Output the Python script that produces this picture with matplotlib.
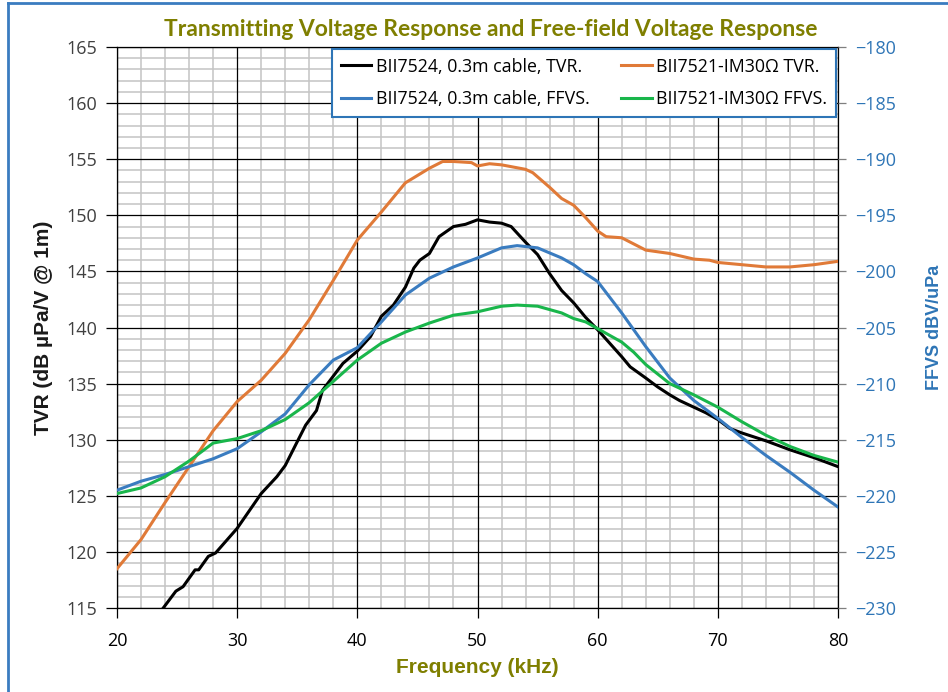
import numpy as np
import matplotlib
matplotlib.use("Agg")
import matplotlib.pyplot as plt
from matplotlib.lines import Line2D
from matplotlib.ticker import MultipleLocator, FixedLocator

# frequencies (kHz) and values
f_black = [23.85, 24.9, 25.5, 26.5, 26.8, 27.6, 28.2, 30, 32, 33.3, 34, 34.8, 35.7, 36.6, 37.1,
           38.8, 40, 41.1, 42, 43, 44, 44.7, 45.2, 46, 46.8, 48, 49, 50, 51, 52, 52.8, 54, 55,
           56, 57, 58, 59, 60, 61, 62, 62.7, 64, 65, 66, 66.8, 68, 69, 70, 71, 72, 74, 76, 78, 80]
tvr_black = [115.0, 116.5, 116.9, 118.4, 118.4, 119.6, 119.9, 122.1, 125.2, 126.7, 127.7, 129.4,
             131.3, 132.6, 134.4, 136.8, 137.9, 139.2, 141.0, 142.0, 143.6, 145.3, 146.0, 146.6,
             148.1, 149.0, 149.2, 149.6, 149.4, 149.3, 149.0, 147.6, 146.5, 144.8, 143.3, 142.2,
             140.9, 139.8, 138.6, 137.4, 136.5, 135.5, 134.7, 134.0, 133.5, 132.9, 132.4, 131.8,
             131.0, 130.6, 129.9, 129.1, 128.4, 127.6]

f_orange = [20, 22, 24, 26, 28, 30, 32, 34, 36, 38, 40, 42, 44, 46, 47.1, 48, 49.5, 50, 51, 52,
            54, 54.6, 56, 57, 58, 59, 60, 60.7, 62, 64, 66, 68, 69.3, 70, 72, 74, 76, 78, 80]
tvr_orange = [118.5, 121.1, 124.4, 127.6, 130.8, 133.4, 135.3, 137.7, 140.7, 144.2, 147.8, 150.3,
              152.9, 154.2, 154.8, 154.8, 154.7, 154.4, 154.6, 154.5, 154.1, 153.8, 152.5, 151.5,
              150.9, 149.8, 148.6, 148.1, 148.0, 146.9, 146.6, 146.1, 146.0, 145.8, 145.6, 145.4,
              145.4, 145.6, 145.9]

f_blue = [20, 22, 24, 26, 28, 30, 32, 34, 36, 38, 40, 42, 44, 46, 48, 50, 52, 53.3, 55, 57, 58,
          59, 60, 61, 62, 64, 66, 68, 70, 72, 74, 76, 78, 80]
ffvs_blue = [-219.5, -218.7, -218.1, -217.4, -216.7, -215.8, -214.3, -212.7, -210.1, -207.9,
             -206.8, -204.5, -202.1, -200.6, -199.6, -198.8, -197.9, -197.7, -197.9, -198.8,
             -199.4, -200.2, -200.9, -202.3, -203.7, -206.7, -209.5, -211.5, -213.1, -214.8,
             -216.4, -217.9, -219.5, -221.0]

f_green = [20, 22, 24, 26, 28, 30, 32, 34, 36, 38, 40, 42, 44, 46, 48, 50, 52, 53.3, 55, 57, 58,
           59, 60, 61, 62, 63, 64, 66, 68, 70, 72, 74, 76, 78, 80]
ffvs_green = [-219.8, -219.3, -218.3, -216.9, -215.3, -214.9, -214.2, -213.2, -211.7, -209.8,
              -207.9, -206.4, -205.4, -204.6, -203.9, -203.6, -203.1, -203.0, -203.1, -203.7,
              -204.2, -204.5, -205.1, -205.7, -206.3, -207.2, -208.3, -210.0, -211.0, -212.1,
              -213.4, -214.6, -215.6, -216.4, -217.0]

labels = ["BII7524, 0.3m cable, TVR.", "BII7521-IM30\u03a9 TVR.",
          "BII7524, 0.3m cable, FFVS.", "BII7521-IM30\u03a9 FFVS."]

olive = "#7f7f00"
blue_txt = "#2e75b6"

fig = plt.figure(figsize=(9.48, 6.92), dpi=100)
ax = fig.add_axes([0.1234, 0.1214, 0.7606, 0.8106])
ax2 = ax.twinx()

ax.set_xlim(20, 80)
ax.set_ylim(115, 165)
ax2.set_ylim(-230, -180)

# grid: grey minor lines via the axis grid, black major lines drawn on top of them
ax.xaxis.set_major_locator(MultipleLocator(10))
ax.xaxis.set_minor_locator(FixedLocator([x for x in range(20, 81, 2) if x % 10 != 0]))
ax.yaxis.set_major_locator(MultipleLocator(5))
ax.yaxis.set_minor_locator(FixedLocator([y for y in range(115, 166) if y % 5 != 0]))
ax.grid(which="minor", color="#c4c4c4", linewidth=1.1, zorder=0.5)
ax.set_axisbelow(True)
ax.vlines(ax.get_xticks(), 115, 165, color="black", lw=0.9, zorder=1)
ax.hlines(ax.get_yticks(), 20, 80, color="black", lw=0.9, zorder=1)
ax.set_xlim(20, 80)
ax.set_ylim(115, 165)

ax.tick_params(which="minor", length=0)
ax.tick_params(axis="y", which="major", direction="out", length=8, width=0.9, labelsize=13,
               labelcolor="#404040", pad=6)
ax.tick_params(axis="x", which="major", direction="out", length=7, width=0.9, labelsize=13,
               pad=10)
ax2.yaxis.set_major_locator(MultipleLocator(5))
ax2.tick_params(axis="y", direction="out", length=6, width=0.9, labelsize=13,
                labelcolor=blue_txt, pad=6, color="#7f7f7f")
for lab in ax.get_xticklabels() + ax.get_yticklabels() + ax2.get_yticklabels():
    lab.set_family("Open Sans")

for s in ["left", "right", "top", "bottom"]:
    ax.spines[s].set_linewidth(0.9)
    ax2.spines[s].set_visible(False)

l1, = ax.plot(f_black, tvr_black, color="black", lw=2.2, zorder=3)
l2, = ax.plot(f_orange, tvr_orange, color="#e07a38", lw=2.2, zorder=3)
l3, = ax2.plot(f_blue, ffvs_blue, color="#3a7cc0", lw=2.2)
l4, = ax2.plot(f_green, ffvs_green, color="#19b64b", lw=2.2)

leg = ax2.legend([l1, l3, l2, l4], [labels[0], labels[2], labels[1], labels[3]], ncol=2,
                 loc="upper right", bbox_to_anchor=(0.997, 0.997),
                 prop={"family": "Open Sans", "size": 12.8}, frameon=True, fancybox=False,
                 handlelength=1.7, handletextpad=0.25, columnspacing=1.8, borderpad=0.5,
                 labelspacing=0.8, borderaxespad=0)
leg.get_frame().set_edgecolor(blue_txt)
leg.get_frame().set_linewidth(1.5)
leg.get_frame().set_alpha(1)

ax.set_ylabel("TVR (dB \u00b5Pa/V @ 1m)", fontsize=15, fontweight="bold",
              family="Liberation Sans", color="#1a1a1a", labelpad=10)
ax2.set_ylabel("FFVS dBV/uPa", fontsize=13, fontweight="bold", family="Liberation Sans",
               color=blue_txt, labelpad=22)
ax.set_xlabel("Frequency (kHz)", fontsize=15, fontweight="bold", family="Liberation Sans",
              color=olive, labelpad=6)
fig.text(0.518, 0.958, "Transmitting Voltage Response and Free-field Voltage Response",
         ha="center", va="center", fontsize=16.5, fontweight="bold", family="Lato", color=olive)

# chart area border (left and top edges only visible)
fig.add_artist(Line2D([0.0085, 0.0085], [0, 0.996], color="#3a7cc0", lw=2))
fig.add_artist(Line2D([0.0085, 1], [0.996, 0.996], color="#3a7cc0", lw=2))

fig.savefig("out.png", dpi=100)
